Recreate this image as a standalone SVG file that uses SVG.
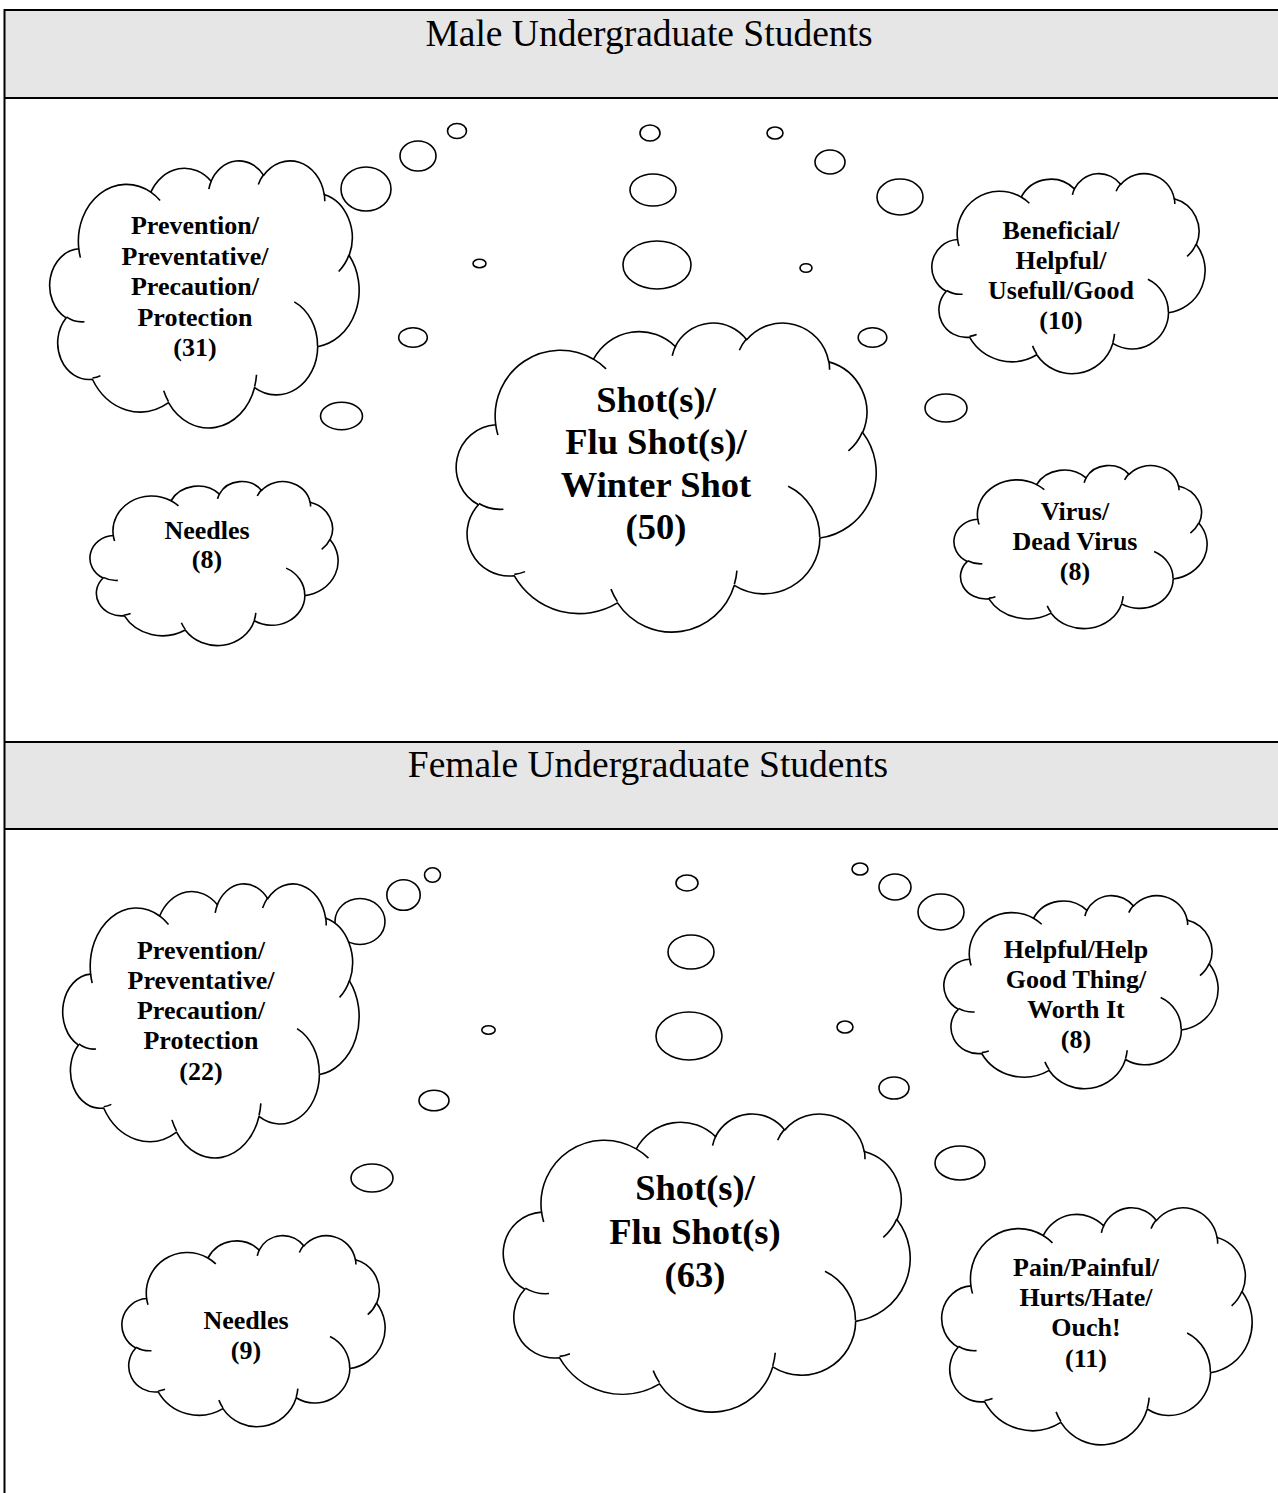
<svg xmlns="http://www.w3.org/2000/svg" xmlns:xlink="http://www.w3.org/1999/xlink" width="1278" height="1493" viewBox="0 0 1278 1493">
<style>
.co{fill:#fff;stroke:#000;stroke-width:1.6;vector-effect:non-scaling-stroke;stroke-linejoin:round}
.ci{fill:none;stroke:#000;stroke-width:1.6;vector-effect:non-scaling-stroke}
.bub{fill:#fff;stroke:#000;stroke-width:1.6}
.lbl{font-family:"Liberation Serif","Times New Roman",serif;font-weight:bold;font-size:26px;text-anchor:middle;fill:#000}
.big{font-family:"Liberation Serif","Times New Roman",serif;font-weight:bold;font-size:36.5px;text-anchor:middle;fill:#000}
.hdr{font-family:"Liberation Serif","Times New Roman",serif;font-size:37.5px;text-anchor:middle;fill:#000}
.hbg{fill:#e6e6e6}
.rule{stroke:#000;stroke-width:2;fill:none}
</style>
<defs>
<g id="cloud">
<path class="co" d="M3900 14370 A6753 9190 0 0 1 14004 5202 A5333 7267 0 0 1 22457 3432 A4365 5945 0 0 1 29834 2481 A4857 6595 0 0 1 38319 5576 A5333 7273 0 0 1 41820 15460 A6775 9220 0 0 1 37406 30203 A5785 7867 0 0 1 28557 36813 A6752 9215 0 0 1 16482 39266 A7720 10543 0 0 1 5806 35472 A4360 5918 0 0 1 2114 25551 A4345 5945 0 0 1 3900 14370 Z"/>
<path class="ci" d="M4693 26177 A4345 5945 0 0 1 2160 25380 M6928 34899 A4360 5918 0 0 1 5820 35281 M16478 39090 A6752 9215 0 0 1 15809 37348 M28827 34751 A6752 9215 0 0 1 28560 36660 M34129 22954 A5785 7867 0 0 1 37381 30090 M41798 15354 A5333 7273 0 0 1 40349 18031 M38324 5426 A4857 6595 0 0 1 38400 6690 M29078 3952 A4857 6595 0 0 1 29820 2339 M22141 4720 A4365 5945 0 0 1 22500 3331 M14000 5192 A6753 9190 0 0 1 15303 6544 M4127 15789 A6753 9190 0 0 1 3900 14370"/>
</g>
</defs>

<g id="male-header">
<rect class="hbg" x="4" y="10" width="1274" height="88"/>
<line class="rule" x1="4" y1="10" x2="1278" y2="10"/>
<line class="rule" x1="4" y1="98" x2="1278" y2="98"/>
<text class="hdr" x="649" y="46">Male Undergraduate Students</text>
</g>
<g id="female-header">
<rect class="hbg" x="4" y="742" width="1274" height="87"/>
<line class="rule" x1="4" y1="742" x2="1278" y2="742"/>
<line class="rule" x1="4" y1="829" x2="1278" y2="829"/>
<text class="hdr" x="648" y="777">Female Undergraduate Students</text>
</g>
<line class="rule" x1="4.5" y1="9" x2="4.5" y2="1493"/>

<g id="connectors"></g>

<!-- Male section -->
<g id="m-prevention">
<ellipse class="bub" cx="457" cy="131" rx="9.5" ry="7.5"/>
<ellipse class="bub" cx="418" cy="156" rx="18" ry="15"/>
<ellipse class="bub" cx="366" cy="189" rx="25" ry="22"/>
<svg x="51" y="160" width="308" height="267" viewBox="0 0 43200 43200" preserveAspectRatio="none" overflow="visible"><use xlink:href="#cloud" href="#cloud"/></svg>
<text class="lbl" x="195" y="234">Prevention/</text>
<text class="lbl" x="195" y="264.5">Preventative/</text>
<text class="lbl" x="195" y="295">Precaution/</text>
<text class="lbl" x="195" y="325.5">Protection</text>
<text class="lbl" x="195" y="356">(31)</text>
</g>

<g id="m-shots">
<ellipse class="bub" cx="650" cy="133" rx="10" ry="8"/>
<ellipse class="bub" cx="653" cy="190" rx="23" ry="16"/>
<ellipse class="bub" cx="657" cy="265" rx="34" ry="24"/>
<svg x="458" y="322" width="418" height="309" viewBox="0 0 43200 43200" preserveAspectRatio="none" overflow="visible"><use xlink:href="#cloud" href="#cloud"/></svg>
<text class="big" x="656" y="411.5">Shot(s)/</text>
<text class="big" x="656" y="454">Flu Shot(s)/</text>
<text class="big" x="656" y="496.5">Winter Shot</text>
<text class="big" x="656" y="539">(50)</text>
</g>

<g id="m-beneficial">
<ellipse class="bub" cx="775" cy="133" rx="8" ry="6"/>
<ellipse class="bub" cx="830" cy="162" rx="15" ry="12"/>
<ellipse class="bub" cx="900" cy="197" rx="23" ry="18"/>
<svg x="933" y="173" width="272" height="200" viewBox="0 0 43200 43200" preserveAspectRatio="none" overflow="visible"><use xlink:href="#cloud" href="#cloud"/></svg>
<text class="lbl" x="1061" y="239">Beneficial/</text>
<text class="lbl" x="1061" y="268.5">Helpful/</text>
<text class="lbl" x="1061" y="298.5">Usefull/Good</text>
<text class="lbl" x="1061" y="328.5">(10)</text>
</g>

<g id="m-needles">
<ellipse class="bub" cx="479.5" cy="263.5" rx="6.5" ry="4.3"/>
<ellipse class="bub" cx="413" cy="337.5" rx="14.3" ry="9.7"/>
<ellipse class="bub" cx="341.5" cy="416" rx="21" ry="13.7"/>
<svg x="91" y="481" width="247" height="164" viewBox="0 0 43200 43200" preserveAspectRatio="none" overflow="visible"><use xlink:href="#cloud" href="#cloud"/></svg>
<text class="lbl" x="207" y="538.5">Needles</text>
<text class="lbl" x="207" y="567.5">(8)</text>
</g>

<g id="m-virus">
<ellipse class="bub" cx="806" cy="268" rx="6" ry="4.3"/>
<ellipse class="bub" cx="872.5" cy="337.5" rx="14.3" ry="9.7"/>
<ellipse class="bub" cx="946" cy="408" rx="21" ry="14"/>
<svg x="955" y="465" width="252" height="163" viewBox="0 0 43200 43200" preserveAspectRatio="none" overflow="visible"><use xlink:href="#cloud" href="#cloud"/></svg>
<text class="lbl" x="1075" y="520">Virus/</text>
<text class="lbl" x="1075" y="550">Dead Virus</text>
<text class="lbl" x="1075" y="580">(8)</text>
</g>

<!-- Female section -->
<g id="f-prevention">
<ellipse class="bub" cx="432.5" cy="875" rx="8" ry="7.3"/>
<ellipse class="bub" cx="403.5" cy="895" rx="16.7" ry="15.3"/>
<ellipse class="bub" cx="360" cy="921.5" rx="25" ry="23"/>
<svg x="64" y="883" width="295" height="274" viewBox="0 0 43200 43200" preserveAspectRatio="none" overflow="visible"><use xlink:href="#cloud" href="#cloud"/></svg>
<text class="lbl" x="201" y="958.5">Prevention/</text>
<text class="lbl" x="201" y="988.5">Preventative/</text>
<text class="lbl" x="201" y="1018.5">Precaution/</text>
<text class="lbl" x="201" y="1049">Protection</text>
<text class="lbl" x="201" y="1080">(22)</text>
</g>

<g id="f-shots">
<ellipse class="bub" cx="687" cy="883" rx="11" ry="8"/>
<ellipse class="bub" cx="691" cy="952" rx="23" ry="17"/>
<ellipse class="bub" cx="689" cy="1036" rx="33" ry="24"/>
<svg x="505" y="1113" width="405" height="298" viewBox="0 0 43200 43200" preserveAspectRatio="none" overflow="visible"><use xlink:href="#cloud" href="#cloud"/></svg>
<text class="big" x="695" y="1200">Shot(s)/</text>
<text class="big" x="695" y="1243.5">Flu Shot(s)</text>
<text class="big" x="695" y="1286.5">(63)</text>
</g>

<g id="f-helpful">
<ellipse class="bub" cx="860" cy="869" rx="8" ry="6"/>
<ellipse class="bub" cx="895" cy="887" rx="16" ry="13"/>
<ellipse class="bub" cx="941" cy="912" rx="23" ry="18"/>
<svg x="945" y="895" width="273" height="193" viewBox="0 0 43200 43200" preserveAspectRatio="none" overflow="visible"><use xlink:href="#cloud" href="#cloud"/></svg>
<text class="lbl" x="1076" y="958">Helpful/Help</text>
<text class="lbl" x="1076" y="988">Good Thing/</text>
<text class="lbl" x="1076" y="1018">Worth It</text>
<text class="lbl" x="1076" y="1048">(8)</text>
</g>

<g id="f-needles">
<ellipse class="bub" cx="488.5" cy="1030" rx="6.7" ry="4.3"/>
<ellipse class="bub" cx="434" cy="1100.5" rx="15" ry="10.3"/>
<ellipse class="bub" cx="372" cy="1178" rx="21" ry="14"/>
<svg x="123" y="1235" width="262" height="191" viewBox="0 0 43200 43200" preserveAspectRatio="none" overflow="visible"><use xlink:href="#cloud" href="#cloud"/></svg>
<text class="lbl" x="246" y="1328.5">Needles</text>
<text class="lbl" x="246" y="1358.5">(9)</text>
</g>

<g id="f-pain">
<ellipse class="bub" cx="845" cy="1027" rx="8" ry="6"/>
<ellipse class="bub" cx="894" cy="1088" rx="15" ry="11"/>
<ellipse class="bub" cx="960" cy="1163" rx="25" ry="17"/>
<svg x="943" y="1207" width="309" height="237" viewBox="0 0 43200 43200" preserveAspectRatio="none" overflow="visible"><use xlink:href="#cloud" href="#cloud"/></svg>
<text class="lbl" x="1086" y="1276">Pain/Painful/</text>
<text class="lbl" x="1086" y="1306">Hurts/Hate/</text>
<text class="lbl" x="1086" y="1336">Ouch!</text>
<text class="lbl" x="1086" y="1367">(11)</text>
</g>
</svg>
